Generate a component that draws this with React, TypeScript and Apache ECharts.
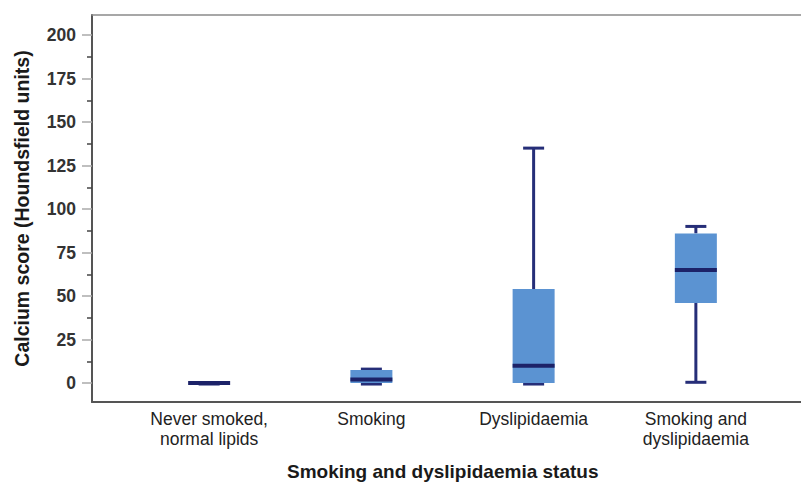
import React, { useEffect, useRef } from "react";
import * as echarts from "echarts";

// Data
const categories = ["Never smoked,\nnormal lipids", "Smoking", "Dyslipidaemia", "Smoking and\ndyslipidaemia"];
const whiskerMin = [0, 0, 0, 1];
const quartile1 = [0, 0, 0, 46];
const medians = [0, 2, 10, 65];
const quartile3 = [0, 7.5, 54, 86];
const whiskerMax = [0, 8, 135, 90];
const majorTicks = [0, 25, 50, 75, 100, 125, 150, 175, 200];
const minorTicks = [12.5, 37.5, 62.5, 87.5, 112.5, 137.5, 162.5, 187.5];

const boxData = categories.map((_, i) => [i, whiskerMin[i], quartile1[i], medians[i], quartile3[i], whiskerMax[i]]);

const NAVY = "#262e78";
const MEDIAN = "#1c2268";
const BOX = "#5b93d2";

export default function App() {
  const ref = useRef<HTMLDivElement>(null);
  useEffect(() => {
    const chart = echarts.init(ref.current!, null, { renderer: "svg" });
    const font = "'Liberation Sans', Arial, sans-serif";
    chart.setOption({
      animation: false,
      backgroundColor: "#ffffff",
      grid: {
        left: 92,
        top: 15,
        width: 721,
        height: 387,
        show: false,
        containLabel: false,
        outerBoundsMode: "none",
      },
      xAxis: [
        {
          type: "value",
          min: -0.722,
          max: 3.722,
          position: "bottom",
          axisLine: { show: true, onZero: false, lineStyle: { color: "#555", width: 2 } },
          axisTick: { show: false },
          splitLine: { show: false },
          axisLabel: {
            customValues: [0, 1, 2, 3],
            formatter: (v: number) => categories[Math.round(v)] ?? "",
            fontFamily: font,
            fontSize: 17.5,
            color: "#222",
            lineHeight: 20,
            margin: 7,
            verticalAlign: "top",
          },
        },
        {
          type: "value",
          min: -0.722,
          max: 3.722,
          position: "top",
          axisLine: { show: true, onZero: false, lineStyle: { color: "#8a8a8a", width: 1.5 } },
          axisTick: { show: false },
          splitLine: { show: false },
          axisLabel: { show: false },
        },
      ],
      yAxis: [
        {
          type: "value",
          min: -10.9,
          max: 211.5,
          position: "left",
          axisLine: { show: true, onZero: false, lineStyle: { color: "#555", width: 2 } },
          axisTick: { show: true, customValues: majorTicks, length: 10, lineStyle: { color: "#aaa", width: 1.5 } },
          splitLine: { show: false },
          axisLabel: {
            customValues: majorTicks,
            fontFamily: font,
            fontSize: 17.5,
            fontWeight: "bold",
            color: "#333",
            margin: 16,
          },
          name: "Calcium score (Houndsfield units)",
          nameLocation: "middle",
          nameGap: 60,
          nameRotate: 90,
          nameTextStyle: { fontFamily: font, fontSize: 19.5, fontWeight: "bold", color: "#1a1a1a" },
        },
        {
          type: "value",
          min: -10.9,
          max: 211.5,
          position: "left",
          axisLine: { show: false, onZero: false },
          axisTick: { show: true, customValues: minorTicks, length: 5, lineStyle: { color: "#444", width: 1.5 } },
          splitLine: { show: false },
          axisLabel: { show: false },
        },
      ],
      graphic: [
        {
          type: "text",
          left: 287,
          top: 462,
          style: {
            text: "Smoking and dyslipidaemia status",
            font: `bold 19px ${font}`,
            fill: "#1a1a1a",
          },
        },
      ],
      series: [
        {
          type: "custom",
          xAxisIndex: 0,
          yAxisIndex: 0,
          data: boxData,
          encode: { x: 0, y: [1, 2, 3, 4, 5] },
          renderItem: (params: any, api: any) => {
            const i = api.value(0);
            const pMin = api.coord([i, api.value(1)]);
            const pQ1 = api.coord([i, api.value(2)]);
            const pMed = api.coord([i, api.value(3)]);
            const pQ3 = api.coord([i, api.value(4)]);
            const pMax = api.coord([i, api.value(5)]);
            const cx = pMed[0];
            const halfBox = 21;
            const halfCap = 10.5;
            const children: any[] = [];
            const line = (x1: number, y1: number, x2: number, y2: number, color: string, w: number) => ({
              type: "line",
              shape: { x1, y1, x2, y2 },
              style: { stroke: color, lineWidth: w },
            });
            if (pMax[1] < pQ3[1]) children.push(line(cx, pQ3[1], cx, pMax[1], NAVY, 3));
            if (pMin[1] > pQ1[1]) children.push(line(cx, pQ1[1], cx, pMin[1], NAVY, 3));
            children.push(line(cx - halfCap, pMax[1], cx + halfCap, pMax[1], NAVY, 3));
            children.push(line(cx - halfCap, pMin[1] + 1, cx + halfCap, pMin[1] + 1, NAVY, 3));
            if (pQ1[1] - pQ3[1] > 0) {
              children.push({
                type: "rect",
                shape: { x: cx - halfBox, y: pQ3[1], width: halfBox * 2, height: pQ1[1] - pQ3[1] },
                style: { fill: BOX },
              });
            }
            children.push(line(cx - halfBox, pMed[1], cx + halfBox, pMed[1], MEDIAN, 4));
            return { type: "group", children };
          },
        },
      ],
    });
    return () => chart.dispose();
  }, []);
  return (
    <div
      ref={ref}
      style={{ position: "fixed", left: 0, top: 0, width: 801, height: 484, background: "#fff" }}
    />
  );
}
